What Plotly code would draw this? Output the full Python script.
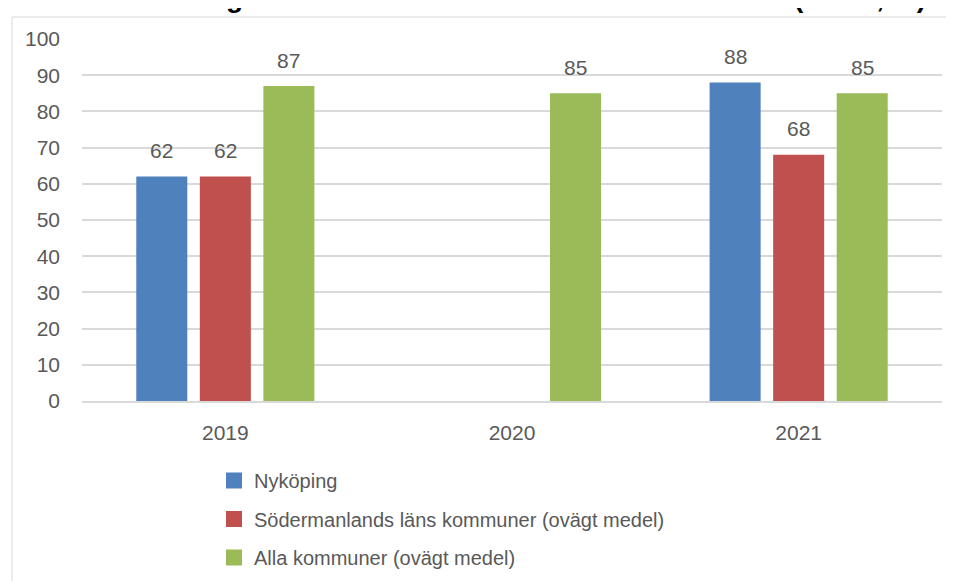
import plotly.graph_objects as go

categories = ["2019", "2020", "2021"]
series_names = [
    "Nyköping",
    "Södermanlands läns kommuner (ovägt medel)",
    "Alla kommuner (ovägt medel)",
]
nykoping = [62, None, 88]
sodermanland = [62, None, 68]
alla = [87, 85, 85]
series_values = [nykoping, sodermanland, alla]
colors = ["#4F81BD", "#C0504D", "#9BBB59"]
y_ticks = list(range(0, 101, 10))
title_text = "Brukarbedömning missbruksvård IFO - förbättrad situation (andel, %)"

FONT = "Liberation Sans, Arial, sans-serif"
TXT = "#595959"

# page has an 8px body margin; figure sized to fit the window
PAGE_OFF = 8
W, H = 954 - PAGE_OFF, 581 - PAGE_OFF
# plot area in screen px: x 82..942, y 39..401
L = 82 - PAGE_OFF
T = 39 - PAGE_OFF
R = W - (942 - PAGE_OFF)
B = H - (401 - PAGE_OFF)
pw, ph = W - L - R, H - T - B

def sx(px):  # screen px -> paper x
    return (px - PAGE_OFF - L) / pw

def sy(py):  # screen py -> paper y
    return (H - B - (py - PAGE_OFF)) / ph

fig = go.Figure()
for name, vals, col in zip(series_names, series_values, colors):
    fig.add_trace(go.Bar(x=categories, y=vals, name=name, marker_color=col,
                         marker_line_width=0, showlegend=False, hoverinfo="skip"))
for i, (name, col) in enumerate(zip(series_names, colors)):
    fig.add_trace(go.Scatter(x=categories, y=[None] * len(categories), mode="markers",
                             name=name, legendgroup=f"g{i}", hoverinfo="skip",
                             marker=dict(symbol="square", size=16, color=col)))

bargap = 0.335
bargroupgap = 0.197
cat_px = pw / len(categories)
slot_px = cat_px * (1 - bargap) / len(series_values)
annotations = []
for si, vals in enumerate(series_values):
    off = (si - (len(series_values) - 1) / 2) * slot_px
    for ci, v in enumerate(vals):
        if v is None:
            continue
        annotations.append(dict(x=ci, y=v, xref="x", yref="y", text=str(v),
                                showarrow=False, xshift=off, yshift=26,
                                yanchor="middle",
                                font=dict(family=FONT, size=21, color=TXT)))

annotations.append(dict(x=sx(0), y=sy(15), xref="paper", yref="paper",
                        text=f"<b>{title_text}</b>", showarrow=False,
                        xanchor="left", yanchor="bottom",
                        font=dict(family=FONT, size=28, color="#000000")))

fig.update_layout(
    width=W, height=H,
    margin=dict(l=L, r=R, t=T, b=B, autoexpand=False),
    paper_bgcolor="white", plot_bgcolor="white",
    barmode="group", bargap=bargap, bargroupgap=bargroupgap,
    font=dict(family=FONT, size=21, color=TXT),
    annotations=annotations,
    shapes=[dict(type="rect", xref="paper", yref="paper",
                 x0=sx(12), x1=sx(1000),
                 y0=sy(700), y1=sy(17),
                 line=dict(color="#D9D9D9", width=1), fillcolor="rgba(0,0,0,0)",
                 layer="below")],
    legend=dict(x=sx(214), y=sy(461), xanchor="left", yanchor="top",
                orientation="v", tracegroupgap=9.5, bgcolor="rgba(0,0,0,0)",
                font=dict(family=FONT, size=20, color=TXT)),
    showlegend=True,
)
fig.update_xaxes(type="category", categoryorder="array", categoryarray=categories,
                 range=[-0.5, len(categories) - 0.5],
                 showgrid=False, showline=True, linecolor="#D9D9D9",
                 linewidth=2, ticks="", ticklabelstandoff=12,
                 tickfont=dict(family=FONT, size=21, color=TXT), fixedrange=True)
fig.update_yaxes(range=[0, 100], tickvals=y_ticks, showgrid=True, gridcolor="#D9D9D9",
                 gridwidth=1.5, zeroline=False, showline=False, ticks="",
                 ticklabelstandoff=21,
                 tickfont=dict(family=FONT, size=21, color=TXT), fixedrange=True)

fig.write_html("out.html")
